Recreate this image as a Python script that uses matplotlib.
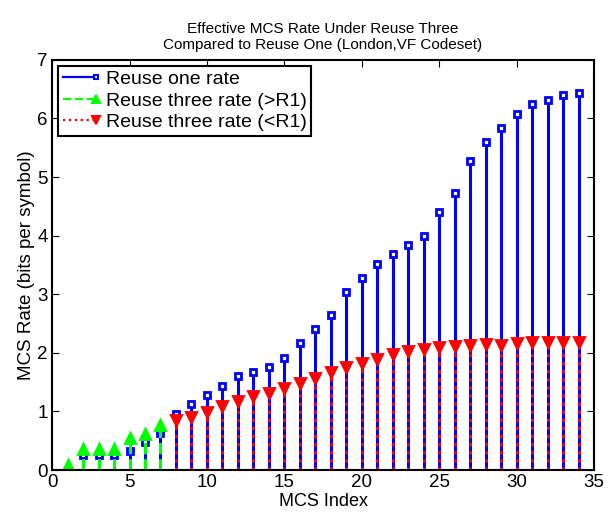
import matplotlib
matplotlib.use("Agg")
import matplotlib.pyplot as plt

plt.rcParams['font.family'] = ['Liberation Sans', 'DejaVu Sans']

# MCS index and rates (bits per symbol)
mcs_one = list(range(1, 35))
rate_one = [0.0, 0.25, 0.25, 0.25, 0.32, 0.48, 0.64, 0.95, 1.12, 1.28,
            1.44, 1.60, 1.68, 1.76, 1.92, 2.16, 2.40, 2.64, 3.04, 3.28,
            3.52, 3.68, 3.84, 4.00, 4.40, 4.72, 5.28, 5.60, 5.84, 6.08,
            6.24, 6.32, 6.40, 6.44]

mcs_gt = list(range(1, 8))
rate_gt = [0.08, 0.36, 0.36, 0.36, 0.54, 0.62, 0.76]

mcs_lt = list(range(8, 35))
rate_lt = [0.85, 0.90, 0.99, 1.10, 1.17, 1.27, 1.32, 1.40, 1.48, 1.57,
           1.67, 1.75, 1.82, 1.90, 1.98, 2.03, 2.07, 2.10, 2.11, 2.14,
           2.15, 2.14, 2.16, 2.18, 2.19, 2.19, 2.19]

fig = plt.figure(figsize=(6.13, 5.12), dpi=100)
ax = fig.add_axes([0.085, 0.082, 0.884, 0.801])

def stem(x, y, color, ls, marker, face, ms, label):
    ax.vlines(x, 0, y, colors=color, linestyles=ls, linewidth=2.2)
    ax.plot(x, y, linestyle='none', marker=marker, color=color,
            markerfacecolor=face, markeredgewidth=2, markersize=ms)
    # legend proxy: thinner line, smaller marker
    ax.plot([], [], linestyle=ls, linewidth=1.6, color=color, marker=marker,
            markerfacecolor=face, markeredgewidth=1.5, markersize=ms - 1, label=label)

stem(mcs_one, rate_one, '#0000ff', '-', 's', 'white', 4.5, 'Reuse one rate')
stem(mcs_gt, rate_gt, '#00ff00', '--', '^', '#00ff00', 6.5, 'Reuse three rate (>R1)')
stem(mcs_lt, rate_lt, '#ff0000', ':', 'v', '#ff0000', 6.5, 'Reuse three rate (<R1)')

ax.set_xlim(0, 35)
ax.set_ylim(0, 7)
ax.set_xticks(range(0, 36, 5))
ax.set_yticks(range(0, 8))
ax.tick_params(direction='in', top=True, right=True, labelsize=13.5, length=5, pad=3)
for s in ax.spines.values():
    s.set_linewidth(1.5)

ax.set_xlabel("MCS Index", fontsize=13, labelpad=1)
ax.set_ylabel("MCS Rate (bits per symbol)", fontsize=13.5, labelpad=2)
ax.set_title("Effective MCS Rate Under Reuse Three\nCompared to Reuse One (London,VF Codeset)",
             fontsize=11, pad=8)

leg = ax.legend(loc='upper left', fontsize=14, fancybox=False, framealpha=1,
                edgecolor='black', borderaxespad=0.3, handlelength=1.7,
                borderpad=0.25, labelspacing=0.2, handletextpad=0.5)
leg.get_frame().set_linewidth(1.5)
# marker at the right end of each legend line
for ln in leg.get_lines():
    ln.set_markevery([2])

fig.savefig("out.png", dpi=100)
